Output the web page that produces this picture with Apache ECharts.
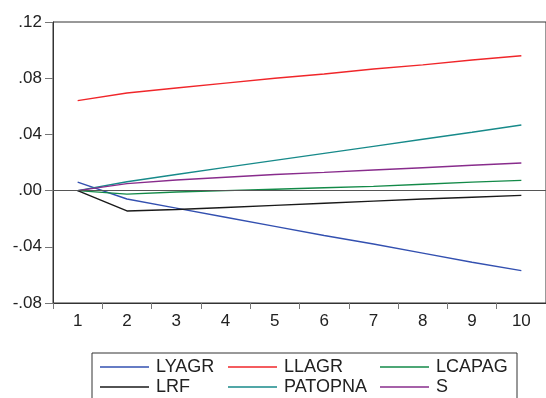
<!DOCTYPE html>
<html><head><meta charset="utf-8">
<script src="https://cdn.jsdelivr.net/npm/echarts@6/dist/echarts.min.js"></script>
<style>html,body{margin:0;padding:0;background:#fff}#c{width:546px;height:398px}</style>
</head><body><div id="c"></div>
<script>
var categories = ['1','2','3','4','5','6','7','8','9','10'];
var LYAGR   = [0.006, -0.006, -0.0125, -0.019, -0.0255, -0.032, -0.038, -0.0445, -0.051, -0.057];
var LLAGR   = [0.064, 0.0695, 0.073, 0.0765, 0.080, 0.083, 0.0865, 0.0895, 0.093, 0.096];
var LCAPAG  = [0, -0.0025, -0.001, 0, 0.001, 0.002, 0.003, 0.0045, 0.006, 0.0073];
var LRF     = [0, -0.0145, -0.0135, -0.012, -0.0105, -0.009, -0.0075, -0.006, -0.0047, -0.0034];
var PATOPNA = [0, 0.0063, 0.0115, 0.0165, 0.0215, 0.0265, 0.0315, 0.0365, 0.0415, 0.0467];
var S       = [0, 0.005, 0.0075, 0.0095, 0.0115, 0.013, 0.0147, 0.0163, 0.018, 0.0196];
var seriesNames = ['LYAGR','LLAGR','LCAPAG','LRF','PATOPNA','S'];
var seriesData = [LYAGR, LLAGR, LCAPAG, LRF, PATOPNA, S];
var colors = ['#3350b0','#f0262a','#138a48','#1a1a1a','#178a8a','#882c8c'];

var chart = echarts.init(document.getElementById('c'), null, {renderer:'canvas'});
var font = '"Liberation Sans", Arial, sans-serif';
var series = seriesNames.map(function(n,i){
  return {name:n, type:'line', data:seriesData[i], symbol:'none', animation:false,
    lineStyle:{color:colors[i], width:1.4}, itemStyle:{color:colors[i]}, z: 3};
});
series[0].markLine = {silent:true, symbol:'none', label:{show:false}, animation:false,
  lineStyle:{color:'#555', width:1, type:'solid'}, data:[{yAxis:0}]};

var legendPos = [[100,368],[228,368],[380,368],[100,388],[228,388],[380,388]];
var legends = seriesNames.map(function(n,i){
  return {data:[n], left:legendPos[i][0], top:legendPos[i][1]-10, orient:'horizontal',
    icon:'rect', itemWidth:49, itemHeight:1.5, itemGap:0, padding:0,
    selectedMode:false,
    textStyle:{fontFamily:font, fontSize:18, color:'#222', padding:[0,0,0,2]}};
});

chart.setOption({
  animation:false,
  color: colors,
  grid:{left:53, top:22, right:-9, bottom:95, show:true, borderColor:'#333', borderWidth:1, backgroundColor:'#fff'},
  xAxis:{type:'category', data:categories, boundaryGap:true,
    axisLine:{onZero:false, lineStyle:{color:'#333', width:1}},
    axisTick:{show:true, alignWithLabel:false, length:6, lineStyle:{color:'#777'}},
    axisLabel:{fontFamily:font, fontSize:17, color:'#222', margin:10, interval:0}},
  yAxis:{type:'value', min:-0.08, max:0.12, interval:0.04,
    axisLine:{show:true, lineStyle:{color:'#333', width:1}},
    axisTick:{show:true, length:8, lineStyle:{color:'#777'}},
    splitLine:{show:false},
    axisLabel:{fontFamily:font, fontSize:17, color:'#222', margin:11,
      formatter:function(v){var r=Math.round(v*100)/100; var s=Math.abs(r).toFixed(2).replace(/^0/,''); return (r<0?'-':'')+s;}}},
  legend: legends,
  graphic:[{type:'rect', shape:{x:92, y:353, width:425, height:60}, style:{fill:'none', stroke:'#333', lineWidth:1}, z:0}],
  series: series
});
</script></body></html>
